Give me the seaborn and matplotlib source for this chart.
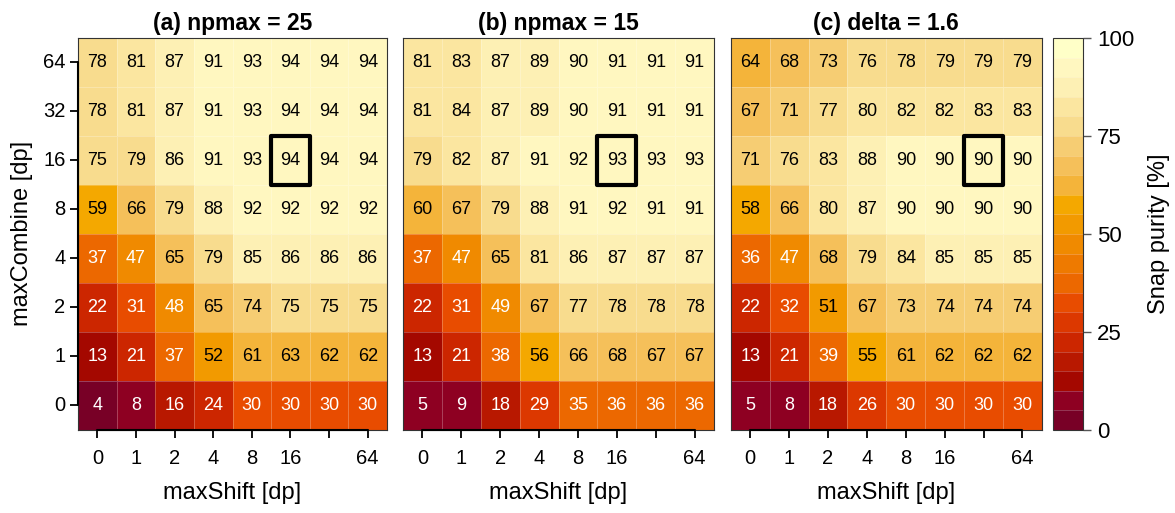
import numpy as np
import pandas as pd
import seaborn as sns
import matplotlib.pyplot as plt
from matplotlib.colors import ListedColormap
from matplotlib.patches import Rectangle

# grid values
shift_labels = ["0", "1", "2", "4", "8", "16", "32", "64"]
shift_ticklabels = ["0", "1", "2", "4", "8", "16", "", "64"]
combine_labels = ["64", "32", "16", "8", "4", "2", "1", "0"]

purity_a = [
    [78, 81, 87, 91, 93, 94, 94, 94],
    [78, 81, 87, 91, 93, 94, 94, 94],
    [75, 79, 86, 91, 93, 94, 94, 94],
    [59, 66, 79, 88, 92, 92, 92, 92],
    [37, 47, 65, 79, 85, 86, 86, 86],
    [22, 31, 48, 65, 74, 75, 75, 75],
    [13, 21, 37, 52, 61, 63, 62, 62],
    [4, 8, 16, 24, 30, 30, 30, 30],
]
purity_b = [
    [81, 83, 87, 89, 90, 91, 91, 91],
    [81, 84, 87, 89, 90, 91, 91, 91],
    [79, 82, 87, 91, 92, 93, 93, 93],
    [60, 67, 79, 88, 91, 92, 91, 91],
    [37, 47, 65, 81, 86, 87, 87, 87],
    [22, 31, 49, 67, 77, 78, 78, 78],
    [13, 21, 38, 56, 66, 68, 67, 67],
    [5, 9, 18, 29, 35, 36, 36, 36],
]
purity_c = [
    [64, 68, 73, 76, 78, 79, 79, 79],
    [67, 71, 77, 80, 82, 82, 83, 83],
    [71, 76, 83, 88, 90, 90, 90, 90],
    [58, 66, 80, 87, 90, 90, 90, 90],
    [36, 47, 68, 79, 84, 85, 85, 85],
    [22, 32, 51, 67, 73, 74, 74, 74],
    [13, 21, 39, 55, 61, 62, 62, 62],
    [5, 8, 18, 26, 30, 30, 30, 30],
]
titles = ["(a) npmax = 25", "(b) npmax = 15", "(c) delta = 1.6"]
# chosen (maxShift, maxCombine) per panel
chosen = [("16", "16"), ("16", "16"), ("32", "16")]

# 20 colour steps, 0 -> 100
bin_colors = [
    "#780026", "#8e0022", "#a40800", "#b81800", "#cc2600",
    "#dc3800", "#e84c00", "#ec6800", "#ee7a00", "#f08a00",
    "#f29a00", "#f4a800", "#f4b43a", "#f5c05a", "#f6cd73",
    "#f8dc8e", "#fbe6a0", "#fdf0b4", "#fff7c0", "#ffffc8",
]
cmap = ListedColormap(bin_colors)

sns.set_style("white")
plt.rcParams["font.family"] = ["Liberation Sans", "DejaVu Sans"]
plt.rcParams.update({"text.color": "black", "axes.labelcolor": "black",
                     "xtick.color": "black", "ytick.color": "black"})

fig = plt.figure(figsize=(11.75, 5.13), dpi=100)
H = 0.764
B = 0.162
axes = [fig.add_axes([0.0664, B, 0.263, H]),
        fig.add_axes([0.343, B, 0.2647, H]),
        fig.add_axes([0.622, B, 0.2647, H])]
cax = fig.add_axes([0.8962, B, 0.0255, H])

for i, (ax, vals) in enumerate(zip(axes, [purity_a, purity_b, purity_c])):
    df = pd.DataFrame(vals, index=combine_labels, columns=shift_labels)
    sns.heatmap(df, ax=ax, cmap=cmap, vmin=0, vmax=100, annot=True, fmt="d",
                annot_kws={"size": 13}, linewidths=0.5,
                linecolor=(1, 1, 1, 0.25), cbar=(i == 0), cbar_ax=cax if i == 0 else None)
    arr = df.values.ravel()
    for t, v in zip(ax.texts, arr):
        t.set_color("white" if v < 50 else "black")

    cx, cy = chosen[i]
    c = shift_labels.index(cx)
    r = combine_labels.index(cy)
    ax.add_patch(Rectangle((c, r), 1, 1, fill=False, edgecolor="black",
                           linewidth=3, joinstyle="round", zorder=5))

    for s in ax.spines.values():
        s.set_visible(True)
        s.set_color("#333333")
        s.set_linewidth(0.8)
    # R-style axis lines from first to last tick
    ax.plot([0.5, 7.5], [8, 8], color="black", lw=1.5, clip_on=False, zorder=6)
    ax.set_xticks(np.arange(8) + 0.5)
    ax.set_xticklabels(shift_ticklabels, rotation=0, fontsize=14.5)
    ax.tick_params(axis="x", bottom=True, length=6, width=1.3, pad=8)
    ax.set_xlabel("maxShift [dp]", fontsize=17, labelpad=10)
    ax.set_title(titles[i], fontsize=16.5, fontweight="bold", pad=6)
    if i == 0:
        ax.plot([0, 0], [0.5, 7.5], color="black", lw=1.5, clip_on=False, zorder=6)
        ax.set_yticks(np.arange(8) + 0.5)
        ax.set_yticklabels(combine_labels, rotation=0, fontsize=14.5)
        ax.tick_params(axis="y", left=True, length=6, width=1.3, pad=3)
        ax.set_ylabel("maxCombine [dp]", fontsize=17, labelpad=7)
    else:
        ax.set_yticks([])
        ax.set_ylabel("")

# colourbar styling
cb = axes[0].collections[0].colorbar
cb.set_ticks([0, 25, 50, 75, 100])
cb.ax.tick_params(labelsize=16, length=6, width=1, color="#555555", pad=4)
cb.set_label("Snap purity [%]", fontsize=17, labelpad=10)
cb.outline.set_edgecolor("#333333")
cb.outline.set_linewidth(0.8)
for lv in range(5, 100, 5):
    cax.axhline(lv, color=(1, 1, 1, 0.25), lw=0.6)

fig.savefig("out.png", dpi=100)
